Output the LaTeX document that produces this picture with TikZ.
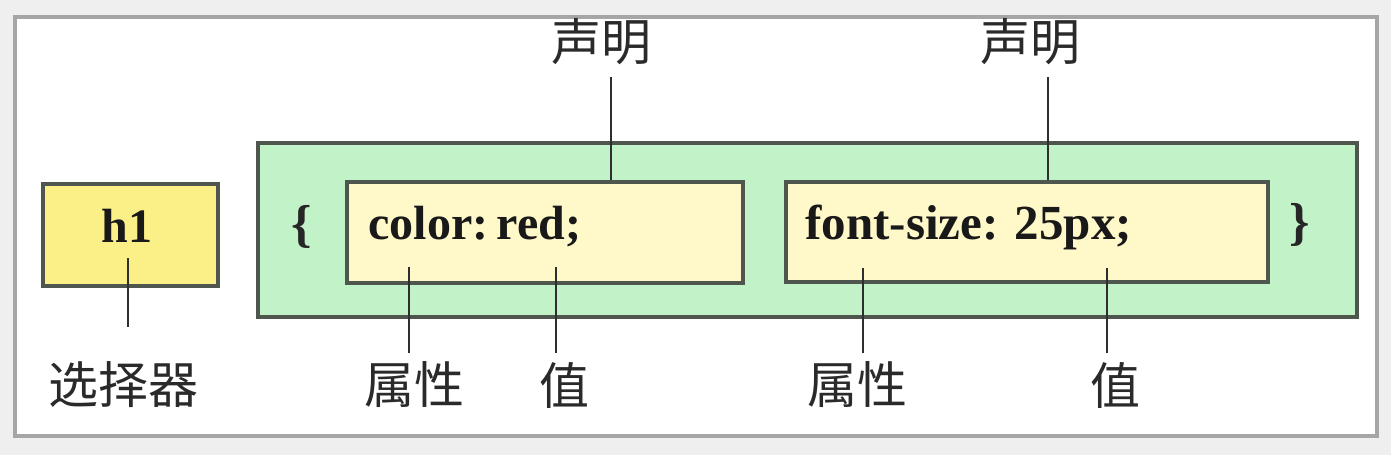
\documentclass[tikz,border=0pt]{standalone}
\usepackage{fontspec}
\setmainfont{Liberation Serif}
\newfontfamily\cjk{Noto Sans CJK SC}
\definecolor{bgc}{HTML}{EFEFEF}
\definecolor{framec}{HTML}{A6A6A6}
\definecolor{hyellow}{HTML}{FBEF88}
\definecolor{lyellow}{HTML}{FFF8C9}
\definecolor{lgreen}{HTML}{C2F2C8}
\definecolor{boxline}{HTML}{4E564E}
\definecolor{linec}{HTML}{2E2E2E}
\definecolor{labc}{HTML}{2A2A2A}
\begin{document}
\begin{tikzpicture}[x=0.5pt,y=-0.5pt,
  boxstyle/.style={draw=boxline,line width=1.6pt,inner sep=0pt},
  codetext/.style={font=\fontsize{24}{28}\selectfont\bfseries,text=black!90,inner sep=0pt},
  bracetext/.style={font=\fontsize{26}{30}\selectfont\bfseries,text=black!85,inner sep=0pt},
  cjklabel/.style={font=\cjk\fontsize{25}{30}\selectfont,text=labc,inner sep=0pt},
  conn/.style={draw=linec,line width=1.3pt}]
\useasboundingbox (0,0) rectangle (1391,455);
\fill[bgc] (0,0) rectangle (1391,455);
\draw[framec,fill=white,line width=2pt] (15,17) rectangle (1377,436);
% boxes
\node[boxstyle,fill=hyellow,minimum width=87.5pt,minimum height=51pt] (h1box) at (130.5,235) {};
\node[boxstyle,fill=lgreen,minimum width=549.5pt,minimum height=87pt] (decl) at (807.5,230) {};
\node[boxstyle,fill=lyellow,minimum width=198pt,minimum height=50.5pt] (in1) at (545,232.5) {};
\node[boxstyle,fill=lyellow,minimum width=241pt,minimum height=50pt] (in2) at (1027,232) {};
% texts
\node[codetext,anchor=base] (h1txt) at (127,242) {h1};
\node[codetext,anchor=base west] (c1) at (368,239) {color:\hspace{0.18em}red;};
\node[codetext,anchor=base west,font=\fontsize{24.5}{28}\selectfont\bfseries] (c2) at (805,239) {font-size: 25px;};
\node[bracetext] (lb) at (302,227) {\{};
\node[bracetext] (rb) at (1300,225) {\}};
% labels
\node[cjklabel] (sel) at (123,385) {选择器};
\node[cjklabel] (p1) at (414,385) {属性};
\node[cjklabel] (v1) at (564,385) {值};
\node[cjklabel] (p2) at (857,385) {属性};
\node[cjklabel] (v2) at (1115,385) {值};
\node[cjklabel] (s1) at (601,42) {声明};
\node[cjklabel] (s2) at (1030,42) {声明};
% connector end points
\coordinate (h1a) at (128,258);
\coordinate (h1b) at (128,327);
\coordinate (p1a) at (409,267);
\coordinate (p1b) at (409,353);
\coordinate (v1a) at (556,267);
\coordinate (v1b) at (556,353);
\coordinate (p2a) at (863,268);
\coordinate (p2b) at (863,353);
\coordinate (v2a) at (1107,268);
\coordinate (v2b) at (1107,353);
\coordinate (s1a) at (611,77);
\coordinate (s2a) at (1048,77);
% connectors
\draw[conn] (h1a) -- (h1b);
\draw[conn] (p1a) -- (p1b);
\draw[conn] (v1a) -- (v1b);
\draw[conn] (p2a) -- (p2b);
\draw[conn] (v2a) -- (v2b);
\draw[conn] (s1a) -- (s1a |- in1.north);
\draw[conn] (s2a) -- (s2a |- in2.north);
\end{tikzpicture}
\end{document}
